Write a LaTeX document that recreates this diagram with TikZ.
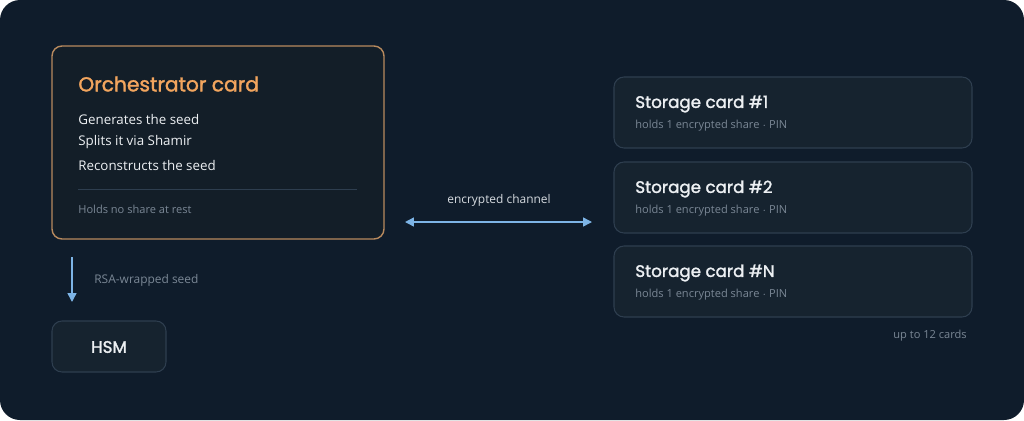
\documentclass[tikz,border=0pt]{standalone}
\usepackage{fontspec}
\setmainfont{Open Sans}
\newfontfamily\headfont[FakeBold=1.6]{Poppins}
\usetikzlibrary{positioning,arrows.meta}
\definecolor{bgA}{HTML}{0F1C2B}
\definecolor{cardBg}{HTML}{16232F}
\definecolor{cardLine}{HTML}{2E3E4F}
\definecolor{orchLine}{HTML}{B88A5E}
\definecolor{orchText}{HTML}{F2A55E}
\definecolor{mainText}{HTML}{EDF0F3}
\definecolor{mutedText}{HTML}{7A8795}
\definecolor{linkBlue}{HTML}{7DB4E6}
\begin{document}
\begin{tikzpicture}[x=0.02cm, y=-0.02cm,
card/.style={draw=cardLine, fill=cardBg, rounded corners=0.2cm, line width=0.6pt},
title/.style={anchor=west, inner sep=0, font=\headfont\fontsize{11}{13}\selectfont, text=mainText},
body/.style={anchor=west, inner sep=0, font=\fontsize{7.6}{9}\selectfont, text=mainText},
small/.style={anchor=west, inner sep=0, font=\fontsize{6.3}{7}\selectfont, text=mutedText},
link/.style={draw=linkBlue, line width=0.8pt, >={Triangle[length=5pt,width=5pt]}}]

% background
\fill[white] (0,0) rectangle (1024,420);
\fill[bgA, rounded corners=0.4cm] (0,0) rectangle (1024,420);
\useasboundingbox (0,0) rectangle (1024,420);

% orchestrator
\draw[card, draw=orchLine, fill=cardBg!85!black, line width=0.8pt] (52,46) rectangle (384,239);
\node[title, text=orchText, font=\headfont\fontsize{11.5}{13}\selectfont] (orch) at (78,84) {Orchestrator card};
\node[body] (gen) at (78,119) {Generates the seed};
\node[body] (split) at (78,142) {Splits it via Shamir};
\node[body] (recon) at (78,165) {Reconstructs the seed};
\draw[cardLine] (78,189) -- (357,189);
\node[small] (rest) at (78,209) {Holds no share at rest};

% hsm
\draw[card] (52,321) rectangle (166,372);
\node[font=\headfont\fontsize{9.5}{11}\selectfont, text=mainText] (hsm) at (109,347) {HSM};
\coordinate (wrapTop) at (72,257);
\coordinate (wrapEnd) at (72,302);
\draw[link, ->] (wrapTop) -- (wrapEnd);
\node[small, font=\fontsize{6.8}{8}\selectfont] (wrap) at (94,280) {RSA-wrapped seed};

% storage
\foreach \i/\t/\n in {0/77/1, 1/162/2, 2/246/N} {
	\draw[card] (614,\t) rectangle (972,\t+71);
	\node[title, font=\headfont\fontsize{9.5}{11}\selectfont] (store\i) at (635,\t+27) {Storage card \#\n};
	\node[small] (share\i) at (635,\t+49) {holds 1 encrypted share $\cdot$ PIN};
}
\node[small, anchor=east] (upto) at (967,336) {up to 12 cards};

% channel
\coordinate (chanL) at (405,222);
\coordinate (chanR) at (592,222);
\draw[link, <->] (chanL) -- (chanR);
\node[small, anchor=center, font=\fontsize{6.8}{8}\selectfont, text=mainText!80!mutedText] (chan) at (499,200) {encrypted channel};
\end{tikzpicture}
\end{document}
